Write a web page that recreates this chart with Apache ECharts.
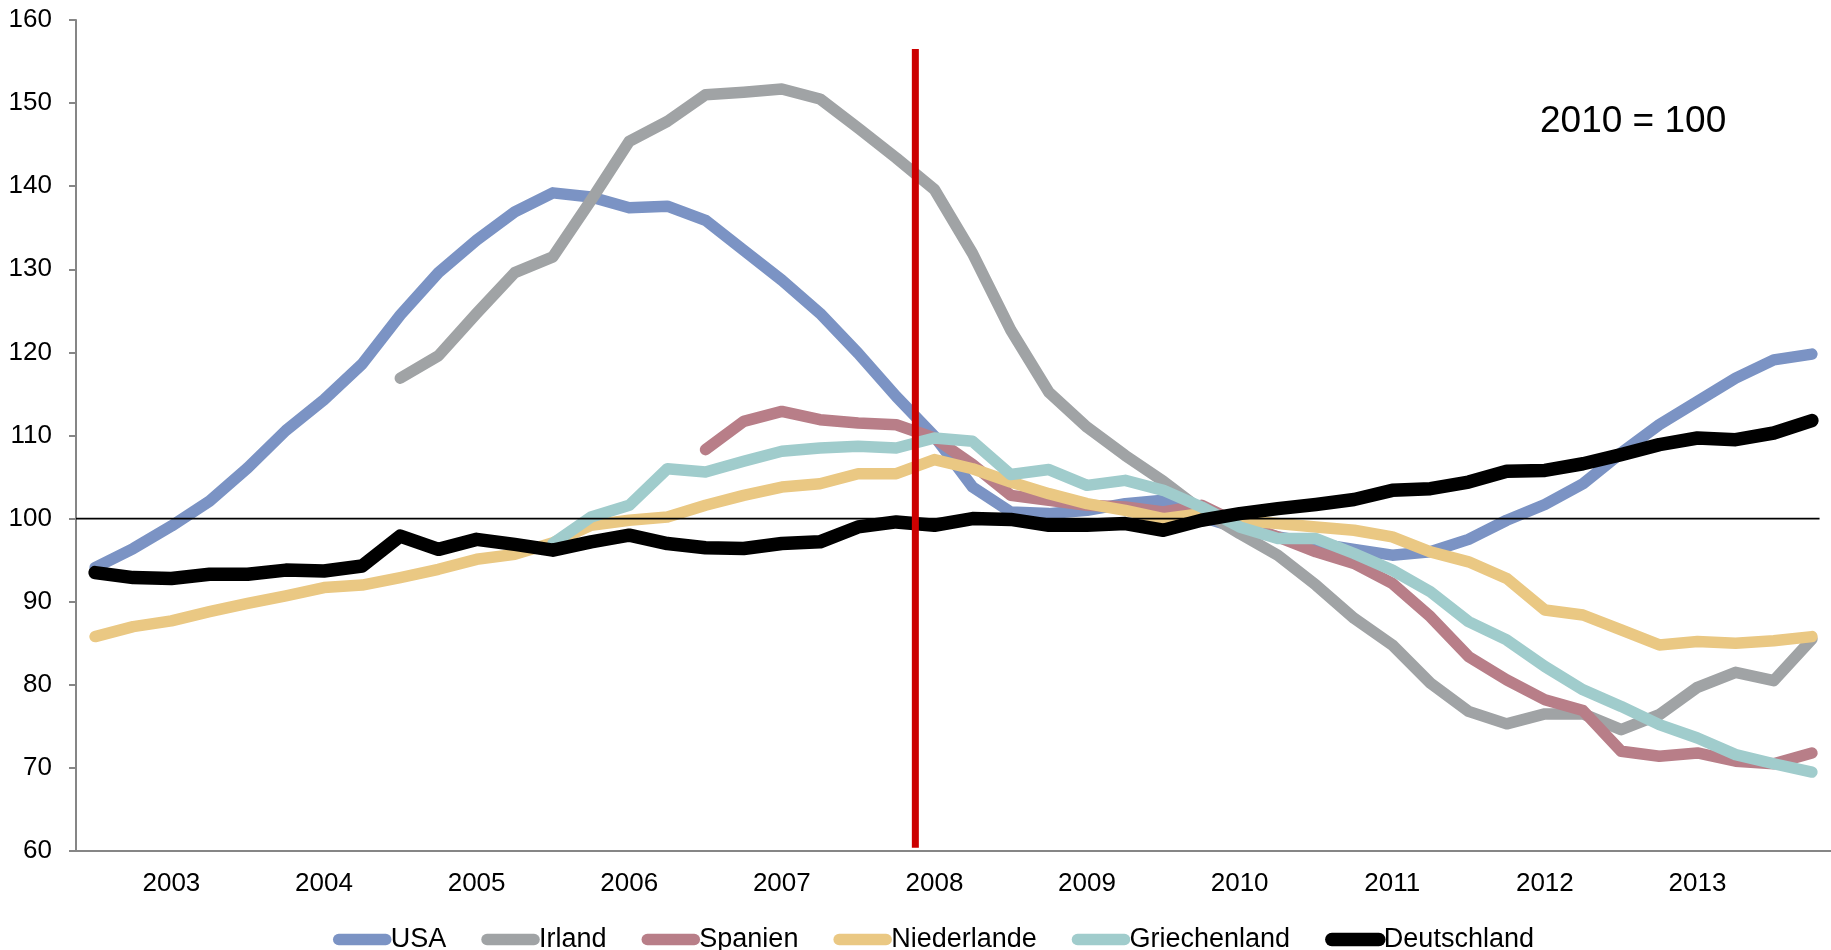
<!DOCTYPE html>
<html>
<head>
<meta charset="utf-8">
<title>Hauspreise 2010 = 100</title>
<script src="https://cdn.jsdelivr.net/npm/echarts@6/dist/echarts.min.js"></script>
<style>
  html, body { margin: 0; padding: 0; background: #ffffff; }
  #chart { width: 1831px; height: 950px; }
</style>
</head>
<body>
<div id="chart"></div>
<script>
// Quartale 2003 Q1 bis 2014 Q2, Jahreszahl steht jeweils beim 3. Quartal
const quarters = [
  'Q1 2003', 'Q2 2003', 'Q3 2003', 'Q4 2003',
  'Q1 2004', 'Q2 2004', 'Q3 2004', 'Q4 2004',
  'Q1 2005', 'Q2 2005', 'Q3 2005', 'Q4 2005',
  'Q1 2006', 'Q2 2006', 'Q3 2006', 'Q4 2006',
  'Q1 2007', 'Q2 2007', 'Q3 2007', 'Q4 2007',
  'Q1 2008', 'Q2 2008', 'Q3 2008', 'Q4 2008',
  'Q1 2009', 'Q2 2009', 'Q3 2009', 'Q4 2009',
  'Q1 2010', 'Q2 2010', 'Q3 2010', 'Q4 2010',
  'Q1 2011', 'Q2 2011', 'Q3 2011', 'Q4 2011',
  'Q1 2012', 'Q2 2012', 'Q3 2012', 'Q4 2012',
  'Q1 2013', 'Q2 2013', 'Q3 2013', 'Q4 2013',
  'Q1 2014', 'Q2 2014'
];

const usa = [
  94.1, 96.4, 99.1, 102.1, 106.1, 110.6, 114.3, 118.6, 124.5, 129.6,
  133.5, 136.9, 139.2, 138.7, 137.4, 137.6, 135.9, 132.3, 128.7, 124.7,
  119.9, 114.7, 109.9, 103.8, 100.8, 100.6, 101.0, 101.8, 102.2, 100.2,
  98.8, 97.8, 97.0, 96.3, 95.6, 96.0, 97.5, 99.8, 101.7, 104.2,
  107.9, 111.3, 114.1, 116.9, 119.1, 119.8
];

const irland = [
  null, null, null, null, null, null, null, null, 116.9, 119.6,
  124.7, 129.6, 131.5, 138.3, 145.4, 147.8, 151.0, 151.3, 151.7, 150.5,
  147.0, 143.4, 139.6, 131.9, 122.7, 115.2, 111.0, 107.6, 104.5, 101.0,
  98.2, 95.6, 92.0, 88.0, 84.8, 80.2, 76.8, 75.3, 76.5, 76.5,
  74.6, 76.4, 79.7, 81.5, 80.5, 85.5
];

const spanien = [
  null, null, null, null, null, null, null, null, null, null,
  null, null, null, null, null, null, 108.3, 111.7, 112.9, 111.9,
  111.5, 111.3, 109.7, 106.5, 102.8, 102.2, 101.6, 101.4, 100.8, 101.6,
  99.4, 97.8, 96.0, 94.6, 92.2, 88.2, 83.4, 80.6, 78.2, 76.9,
  72.0, 71.4, 71.8, 70.8, 70.5, 71.8
];

const niederlande = [
  85.8, 87.0, 87.7, 88.8, 89.8, 90.7, 91.7, 92.0, 92.9, 93.9,
  95.1, 95.7, 97.1, 99.2, 99.8, 100.2, 101.6, 102.8, 103.8, 104.2,
  105.4, 105.4, 107.1, 106.0, 104.4, 103.0, 101.8, 101.0, 100.0, 100.6,
  99.8, 99.4, 99.0, 98.6, 97.8, 96.0, 94.8, 92.8, 89.0, 88.4,
  86.6, 84.8, 85.2, 85.0, 85.3, 85.8
];

const griechenland = [
  null, null, null, null, null, null, null, null, null, null,
  null, null, 97.0, 100.2, 101.6, 106.0, 105.6, 106.9, 108.1, 108.5,
  108.7, 108.5, 109.7, 109.3, 105.3, 105.9, 104.0, 104.6, 103.4, 101.4,
  99.0, 97.6, 97.6, 95.8, 93.8, 91.2, 87.6, 85.4, 82.2, 79.4,
  77.4, 75.2, 73.6, 71.6, 70.5, 69.5
];

const deutschland = [
  93.5, 92.9, 92.8, 93.3, 93.3, 93.8, 93.7, 94.3, 97.9, 96.3,
  97.5, 96.9, 96.2, 97.2, 98.0, 97.0, 96.5, 96.4, 97.0, 97.2,
  99.0, 99.6, 99.2, 100.0, 99.9, 99.2, 99.2, 99.4, 98.6, 99.8,
  100.6, 101.2, 101.7, 102.3, 103.4, 103.6, 104.4, 105.7, 105.8, 106.6,
  107.7, 108.9, 109.7, 109.5, 110.3, 111.8
];

const yTicks = [60, 160, 10]; // min, max, Abstand
const baseLevel = 100;        // 2010 = 100
const crisisBoundary = 22;    // Grenze zwischen 2008 Q2 und Q3
const crisisTop = 156.5;

const countries = [
  { name: 'USA', data: usa, color: '#7b93c4', width: 11.5 },
  { name: 'Irland', data: irland, color: '#a0a3a5', width: 11.5 },
  { name: 'Spanien', data: spanien, color: '#b87e88', width: 11.5 },
  { name: 'Niederlande', data: niederlande, color: '#eac883', width: 11.5 },
  { name: 'Griechenland', data: griechenland, color: '#a0cccc', width: 11.5 },
  { name: 'Deutschland', data: deutschland, color: '#000000', width: 13.5 }
];

const font = 'Liberation Sans, Arial, sans-serif';
const chart = echarts.init(document.getElementById('chart'));

const series = countries.map(c => ({
  name: c.name,
  type: 'line',
  data: c.data,
  showSymbol: false,
  symbol: 'none',
  connectNulls: false,
  color: c.color,
  lineStyle: { color: c.color, width: c.width, cap: 'round', join: 'round' },
  emphasis: { disabled: true },
  animation: false
}));

// waagrechte Linie bei 100, unter der schwarzen Linie
series.splice(5, 0, {
  name: 'base',
  type: 'line',
  xAxisIndex: 1,
  data: [[0, baseLevel], [quarters.length - 0.3, baseLevel]],
  symbol: 'none',
  lineStyle: { color: '#000000', width: 1.6 },
  silent: true,
  animation: false
});

// rote Markierung (Lehman)
series.push({
  name: 'crisis',
  type: 'line',
  xAxisIndex: 1,
  data: [[crisisBoundary, yTicks[0] + 0.4], [crisisBoundary, crisisTop]],
  symbol: 'none',
  lineStyle: { color: '#cc0000', width: 7, cap: 'butt' },
  silent: true,
  animation: false
});

const option = {
  backgroundColor: '#ffffff',
  animation: false,
  title: {
    text: '2010 = 100',
    left: 1540,
    top: 103,
    padding: 0,
    textStyle: { fontFamily: font, fontSize: 37, fontWeight: 'normal', color: '#000000' }
  },
  grid: { left: 76, top: 20, width: 1757.2, height: 831 },
  legend: {
    data: countries.map(c => c.name === 'Deutschland'
      ? { name: c.name, lineStyle: { width: 13.5 } }
      : { name: c.name }),
    left: 333,
    top: 926,
    padding: 0,
    itemWidth: 47,
    itemHeight: 14,
    itemGap: 35,
    lineStyle: { width: 11.5, cap: 'round' },
    textStyle: { fontFamily: font, fontSize: 27, color: '#000000' }
  },
  xAxis: [
    {
      type: 'category',
      data: quarters,
      boundaryGap: true,
      axisLine: { lineStyle: { color: '#868686', width: 2 } },
      axisTick: { interval: 0, length: 7, lineStyle: { color: '#868686', width: 2 } },
      axisLabel: {
        interval: (index) => index % 4 === 2,
        formatter: (value) => value.slice(3),
        margin: 20,
        fontFamily: font,
        fontSize: 26,
        color: '#000000'
      },
      splitLine: { show: false }
    },
    {
      type: 'value',
      min: 0,
      max: quarters.length,
      show: false
    }
  ],
  yAxis: {
    type: 'value',
    min: yTicks[0],
    max: yTicks[1],
    interval: yTicks[2],
    axisLine: { show: true, lineStyle: { color: '#868686', width: 2 } },
    axisTick: { show: true, length: 7, lineStyle: { color: '#868686', width: 2 } },
    axisLabel: { margin: 24, fontFamily: font, fontSize: 26, color: '#000000' },
    splitLine: { show: false }
  },
  series: series
};

chart.setOption(option);
</script>
</body>
</html>
